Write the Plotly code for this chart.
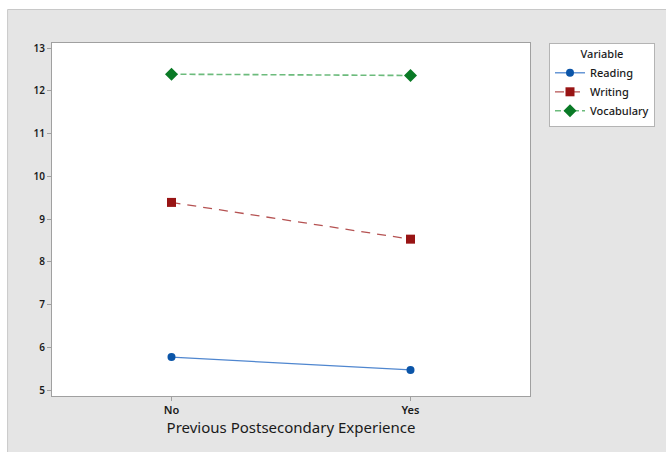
import plotly.graph_objects as go

categories = ["No", "Yes"]
reading = [5.77, 5.47]
writing = [9.39, 8.53]
vocabulary = [12.39, 12.36]
y_ticks = [5, 6, 7, 8, 9, 10, 11, 12, 13]

L, R, T, B = 52, 135, 43, 56
W, H = 666, 452
pw, ph = W - L - R, H - T - B

def px(x):
    return (x - L) / pw

def py(y):
    return (H - B - y) / ph

fig = go.Figure()
fig.add_trace(go.Scatter(
    x=categories, y=reading, name="Reading", mode="lines+markers",
    line=dict(color="#4f86cf", width=1.3),
    marker=dict(symbol="circle", size=8, color="#0b55a8")))
fig.add_trace(go.Scatter(
    x=categories, y=writing, name="Writing", mode="lines+markers",
    line=dict(color="#b55252", width=1.3, dash="9px,7px"),
    marker=dict(symbol="square", size=9, color="#981414")))
fig.add_trace(go.Scatter(
    x=categories, y=vocabulary, name="Vocabulary", mode="lines+markers",
    line=dict(color="#6cbb7c", width=1.6, dash="6px,3px"),
    marker=dict(symbol="diamond", size=10, color="#0a7a26")))

# white strips outside the grey panel (top and left)
fig.add_shape(type="rect", xref="paper", yref="paper",
              x0=px(-5), x1=px(W + 5), y0=py(9.5), y1=py(-5),
              fillcolor="white", line=dict(width=0), layer="below")
fig.add_shape(type="rect", xref="paper", yref="paper",
              x0=px(-5), x1=px(7.5), y0=py(H + 5), y1=py(-5),
              fillcolor="white", line=dict(width=0), layer="below")
# panel border lines
fig.add_shape(type="line", xref="paper", yref="paper",
              x0=px(7.5), x1=px(W + 5), y0=py(9.5), y1=py(9.5),
              line=dict(color="#c8c8c8", width=1), layer="below")
fig.add_shape(type="line", xref="paper", yref="paper",
              x0=px(7.5), x1=px(7.5), y0=py(9.5), y1=py(H + 5),
              line=dict(color="#c8c8c8", width=1), layer="below")

fig.update_layout(
    width=W, height=H,
    margin=dict(l=L, r=R, t=T, b=B),
    paper_bgcolor="#e5e5e5", plot_bgcolor="white",
    font=dict(family="Noto Sans, Open Sans, sans-serif", color="#222222"),
    legend=dict(
        x=px(549), y=1.0, xanchor="left", yanchor="top",
        bgcolor="white", bordercolor="#b4b4b4", borderwidth=1,
        font=dict(size=11, color="#1a1a1a", weight=500),
        title=dict(text="Variable", side="top center",
                   font=dict(size=11, weight=500)),
        tracegroupgap=0, itemwidth=30,
    ),
    xaxis=dict(
        type="category", range=[-0.5, 1.5],
        showgrid=False, zeroline=False,
        showline=True, linecolor="#a0a0a0", mirror=True, linewidth=1,
        ticks="outside", ticklen=4, tickcolor="#a0a0a0",
        tickfont=dict(size=11, color="#1a1a1a", family="Noto Sans", weight=600),
        title=dict(text="Previous Postsecondary Experience",
                   font=dict(size=15, color="#1a1a1a", family="Noto Sans"), standoff=4),
    ),
    yaxis=dict(
        range=[4.86, 13.12], tickvals=y_ticks,
        showgrid=False, zeroline=False,
        showline=True, linecolor="#a0a0a0", mirror=True, linewidth=1,
        ticks="outside", ticklen=4, tickcolor="#a0a0a0",
        tickfont=dict(size=10, color="#1a1a1a", family="Noto Sans", weight=600),
    ),
)

fig.write_html(
    "out.html",
    config={"displayModeBar": False},
    post_script="document.body.style.margin='0';document.body.style.overflow='hidden';",
)
